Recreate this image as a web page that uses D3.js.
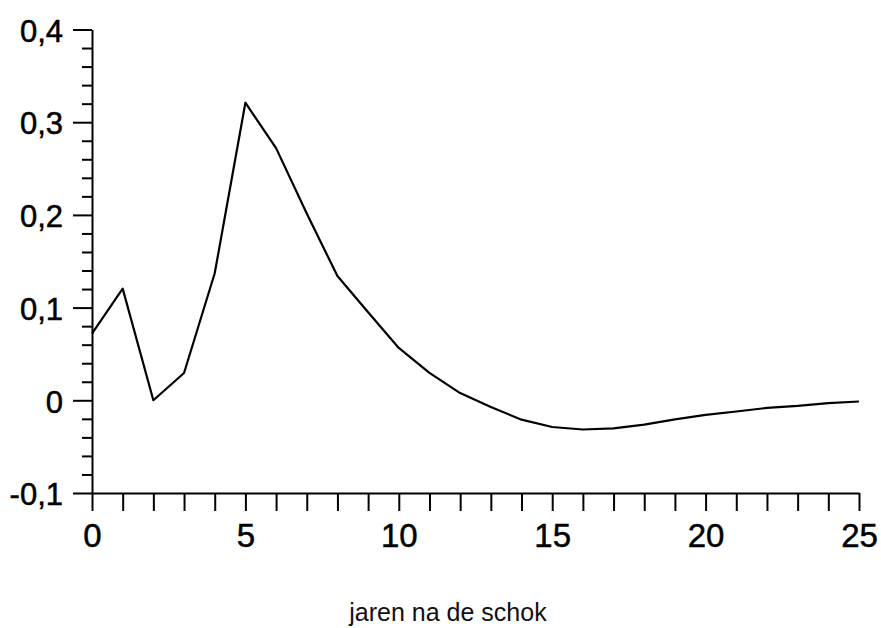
<!DOCTYPE html>
<html>
<head>
<meta charset="utf-8">
<script src="https://cdn.jsdelivr.net/npm/d3@7/dist/d3.min.js"></script>
<style>
  html, body { margin: 0; padding: 0; background: #fff; }
  svg { display: block; font-family: "Liberation Sans", Arial, Helvetica, sans-serif; }
  .axis path, .axis line { stroke: #000; stroke-width: 2; }
  .axis text { fill: #000; stroke: #000; stroke-width: 0.5; }
</style>
</head>
<body>
<svg id="chart" width="881" height="628"></svg>
<script>
// impulse response: years after the shock
const years = d3.range(0, 26);
const response = [
  0.072, 0.1205, 0.0, 0.0295, 0.137, 0.321, 0.272, 0.2015, 0.134, 0.095,
  0.0565, 0.0295, 0.0078, -0.0072, -0.0209, -0.0288, -0.0315, -0.0302, -0.0262, -0.0205,
  -0.0158, -0.0121, -0.0082, -0.006, -0.003, -0.0013
];
const yMajor = [-0.1, 0, 0.1, 0.2, 0.3, 0.4];
const xLabels = [0, 5, 10, 15, 20, 25];
const xTitle = "jaren na de schok";

const svg = d3.select("#chart");
const x = d3.scaleLinear().domain([0, 25]).range([92, 859]);
const y = d3.scaleLinear().domain([-0.1, 0.4]).range([493, 29.5]);

const fmt = (v) => (v === 0 ? "0" : d3.format(".1f")(v).replace(".", ",").replace("−", "-"));

// minor y ticks every 0.02
const yMinor = d3.range(-0.1, 0.4001, 0.02).filter((v) => !yMajor.some((m) => Math.abs(m - v) < 1e-6));

svg.append("g")
  .attr("class", "axis")
  .attr("transform", `translate(${x(0)},0)`)
  .call(d3.axisLeft(y).tickValues(yMinor).tickSize(10).tickSizeOuter(0).tickFormat(""))
  .call((g) => g.select(".domain").remove());

svg.append("g")
  .attr("class", "axis")
  .attr("transform", `translate(${x(0)},0)`)
  .call(d3.axisLeft(y).tickValues(yMajor).tickSize(19).tickSizeOuter(0).tickPadding(10).tickFormat(fmt))
  .call((g) => g.selectAll("text").attr("font-size", 31).attr("dy", "0.38em"));

svg.append("g")
  .attr("class", "axis")
  .attr("transform", `translate(0,${y(-0.1)})`)
  .call(d3.axisBottom(x).tickValues(years).tickSize(18).tickSizeOuter(0).tickPadding(13)
    .tickFormat((d) => (xLabels.includes(d) ? String(d) : "")))
  .call((g) => g.selectAll("text").attr("font-size", 33));

const line = d3.line()
  .x((d, i) => x(years[i]))
  .y((d) => y(d));

svg.append("path")
  .datum(response)
  .attr("fill", "none")
  .attr("stroke", "#000")
  .attr("stroke-width", 2.2)
  .attr("stroke-linejoin", "round")
  .attr("d", line);

svg.append("text")
  .attr("x", 448)
  .attr("y", 621)
  .attr("text-anchor", "middle")
  .attr("font-size", 25)
  .attr("fill", "#111")
  .text(xTitle);
</script>
</body>
</html>
